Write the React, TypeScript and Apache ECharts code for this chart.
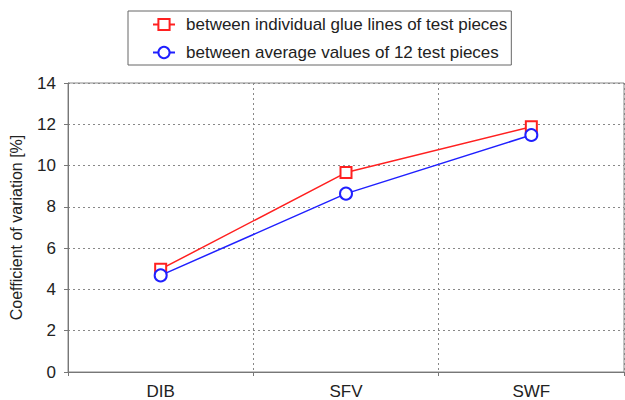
import React, { useEffect, useRef } from "react";
import * as echarts from "echarts";

const categories = ["DIB", "SFV", "SWF"];
const glueLines = [4.98, 9.66, 11.88];
const averages = [4.68, 8.64, 11.48];
const seriesNames = [
  "between individual glue lines of test pieces",
  "between average values of 12 test pieces",
];
const yTicks = { min: 0, max: 14, interval: 2 };

export default function App() {
  const ref = useRef<HTMLDivElement>(null);
  useEffect(() => {
    if (!ref.current) return;
    const chart = echarts.init(ref.current, undefined, { renderer: "svg" });
    const font = "Liberation Sans, Arial, sans-serif";
    chart.setOption({
      animation: false,
      backgroundColor: "#ffffff",
      textStyle: { fontFamily: font },
      legend: {
        orient: "vertical",
        left: 128,
        top: 11,
        itemWidth: 22,
        itemHeight: 14,
        itemGap: 11,
        padding: [5, 4, 4, 24],
        borderColor: "#666",
        borderWidth: 1,
        textStyle: { fontSize: 17, color: "#222", fontFamily: font, padding: [0, 0, 0, 6] },
        data: seriesNames,
      },
      grid: {
        left: 68,
        right: 1,
        top: 83,
        bottom: 28,
        show: true,
        borderColor: "#888",
        borderWidth: 1,
      },
      xAxis: {
        type: "category",
        data: categories,
        boundaryGap: true,
        axisLine: { lineStyle: { color: "#777", width: 1 } },
        axisTick: { show: true, length: 4, lineStyle: { color: "#777" } },
        axisLabel: { fontSize: 17, color: "#222", margin: 11, fontFamily: font },
        splitLine: {
          show: true,
          lineStyle: { color: "#888", type: [2, 3], width: 1 },
        },
      },
      yAxis: {
        type: "value",
        min: yTicks.min,
        max: yTicks.max,
        interval: yTicks.interval,
        name: "Coefficient of variation [%]",
        nameLocation: "middle",
        nameGap: 44,
        nameTextStyle: { fontSize: 16, color: "#222", fontFamily: font },
        axisLine: { show: true, lineStyle: { color: "#777", width: 1 } },
        axisTick: { show: true, length: 4, lineStyle: { color: "#777" } },
        axisLabel: { fontSize: 17, color: "#222", margin: 12, fontFamily: font },
        splitLine: {
          show: true,
          lineStyle: { color: "#888", type: [2, 3], width: 1 },
        },
      },
      series: [
        {
          name: seriesNames[0],
          type: "line",
          data: glueLines,
          symbol: "rect",
          symbolSize: 11,
          color: "#ff2020",
          lineStyle: { color: "#ff2020", width: 1.5 },
          itemStyle: { color: "#ffffff", borderColor: "#ff2020", borderWidth: 2 },
          z: 3,
        },
        {
          name: seriesNames[1],
          type: "line",
          data: averages,
          symbol: "circle",
          symbolSize: 12,
          color: "#2020ff",
          lineStyle: { color: "#2020ff", width: 1.5 },
          itemStyle: { color: "#ffffff", borderColor: "#2020ff", borderWidth: 2 },
          z: 4,
        },
      ],
    });
    return () => chart.dispose();
  }, []);
  return <div ref={ref} style={{ width: 625, height: 400, position: "absolute", left: 0, top: 0 }} />;
}
